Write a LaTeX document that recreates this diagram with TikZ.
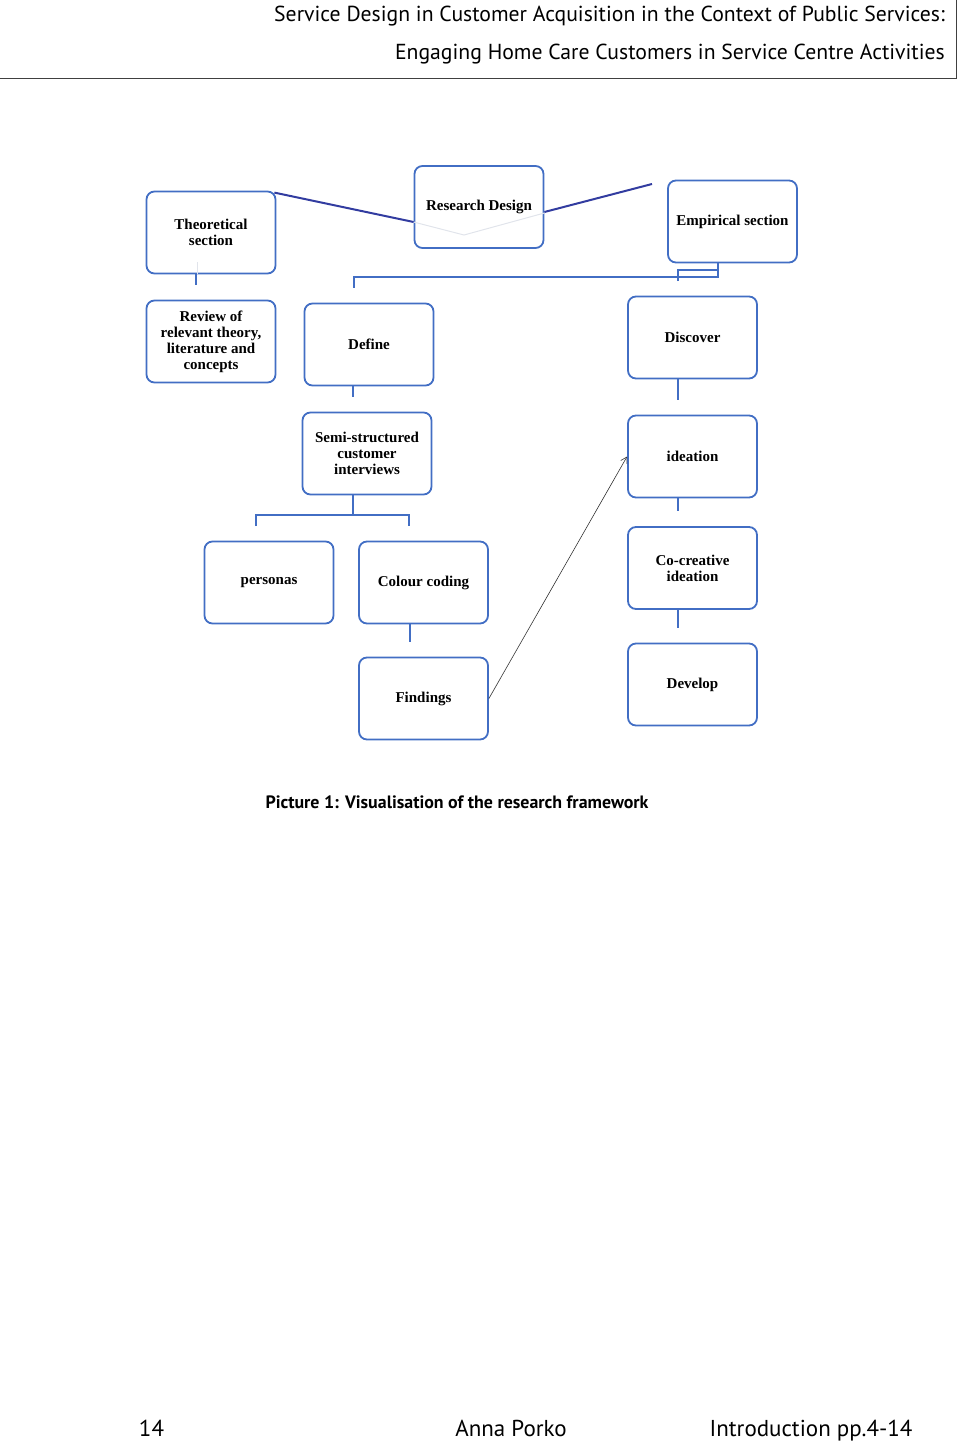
\documentclass[tikz,border=0pt]{standalone}
\usepackage{fontspec}
\setmainfont{Liberation Serif}
\newfontfamily\hdr{PT Sans}
\usetikzlibrary{arrows.meta}
\definecolor{boxblue}{RGB}{66,110,196}
\definecolor{navy}{RGB}{50,60,160}
\definecolor{faint}{RGB}{225,228,235}
\begin{document}
\begin{tikzpicture}[x=1pt,y=-1pt,
  box/.style={draw=boxblue,line width=1.8pt,rounded corners=8pt,minimum width=129pt,minimum height=82pt,
    align=center,font=\fontsize{15}{16}\selectfont\bfseries,inner sep=2pt},
  conn/.style={draw=navy,line width=2pt},
  stub/.style={draw=boxblue,line width=2pt},
  hdrtxt/.style={font=\hdr\fontsize{21.7}{24}\selectfont,anchor=base east,inner sep=0pt},
  foot/.style={font=\hdr\fontsize{23}{24}\selectfont,inner sep=0pt,anchor=base}]
\useasboundingbox (0,0) rectangle (960,1444);
% header
\node[hdrtxt] (h1) at (945,21) {Service Design in Customer Acquisition in the Context of Public Services:};
\node[hdrtxt] (h2) at (945,59) {Engaging Home Care Customers in Service Centre Activities};
\draw[line width=1pt,black!75] (0,78.5) -- (956.5,78.5) -- (956.5,0);
% boxes
\node[box] (theo) at (211,232.5) {Theoretical\\section};
\node[box] (rd) at (479,207) {Research Design};
\node[box] (emp) at (732.5,221.5) {Empirical section};
\node[box] (rev) at (211,341.5) {Review of\\relevant theory,\\literature and\\concepts};
\node[box] (def) at (369,344.5) {Define};
\node[box] (disc) at (692.5,337.5) {Discover};
\node[box] (semi) at (367,453.5) {Semi-structured\\customer\\interviews};
\node[box] (idea) at (692.5,456.5) {ideation};
\node[box] (pers) at (269,582.5) {personas};
\node[box] (col) at (423.5,582.5) {Colour coding};
\node[box] (cocr) at (692.5,568) {Co-creative\\ideation};
\node[box] (find) at (423.5,698.5) {Findings};
\node[box] (dev) at (692.5,684.5) {Develop};
% faint lines
\coordinate (fa) at (464,235);
\draw[faint,line width=1pt] (rd.west |- 0,222) -- (fa) -- (rd.east |- 0,213);
\draw[faint,line width=1pt] (197,262) -- (theo.south -| 197,0);
% connectors top
\coordinate (rdfree) at (652,184);
\draw[conn] (theo.north east) ++(-2,2) -- (rd.west |- 0,222);
\draw[conn] (rd.east |- 0,212) -- (rdfree);
% stubs
\coordinate (t1) at (196,285);
\draw[stub] (theo.south -| t1) -- (t1);
\coordinate (hl) at (354,277);
\coordinate (hr) at (718,277);
\coordinate (hd) at (354,288);
\draw[stub] (emp.south -| hr) -- (hr) -- (hl) -- (hd);
\coordinate (bk1) at (678,270);
\coordinate (bk2) at (678,281);
\draw[stub] (bk2) -- (bk1) -- (bk1 -| hr);
\coordinate (d1) at (353,397);
\draw[stub] (def.south -| d1) -- (d1);
\coordinate (s1) at (353,515);
\coordinate (sl) at (256,515);
\coordinate (sr) at (409,515);
\draw[stub] (semi.south -| s1) -- (s1);
\draw[stub] (256,526) -- (sl) -- (sr) -- (409,526);
\coordinate (c1) at (410,642);
\draw[stub] (col.south -| c1) -- (c1);
\coordinate (r1) at (678,400);
\draw[stub] (disc.south -| r1) -- (r1);
\coordinate (r2) at (678,511);
\draw[stub] (idea.south -| r2) -- (r2);
\coordinate (r3) at (678,628);
\draw[stub] (cocr.south -| r3) -- (r3);
% arrow
\draw[black!80,line width=0.6pt,-{Straight Barb[length=6pt,width=7pt]}] (find.east) -- (idea.west);
% caption
\node[font=\hdr\fontsize{17.9}{20}\selectfont\bfseries,inner sep=0pt] (cap) at (457,802) {Picture 1: Visualisation of the research framework};
% footer
\node[foot] (f1) at (151.5,1436) {14};
\node[foot] (f2) at (511,1436) {Anna Porko};
\node[foot] (f3) at (811,1436) {Introduction pp.4-14};
\end{tikzpicture}
\end{document}
